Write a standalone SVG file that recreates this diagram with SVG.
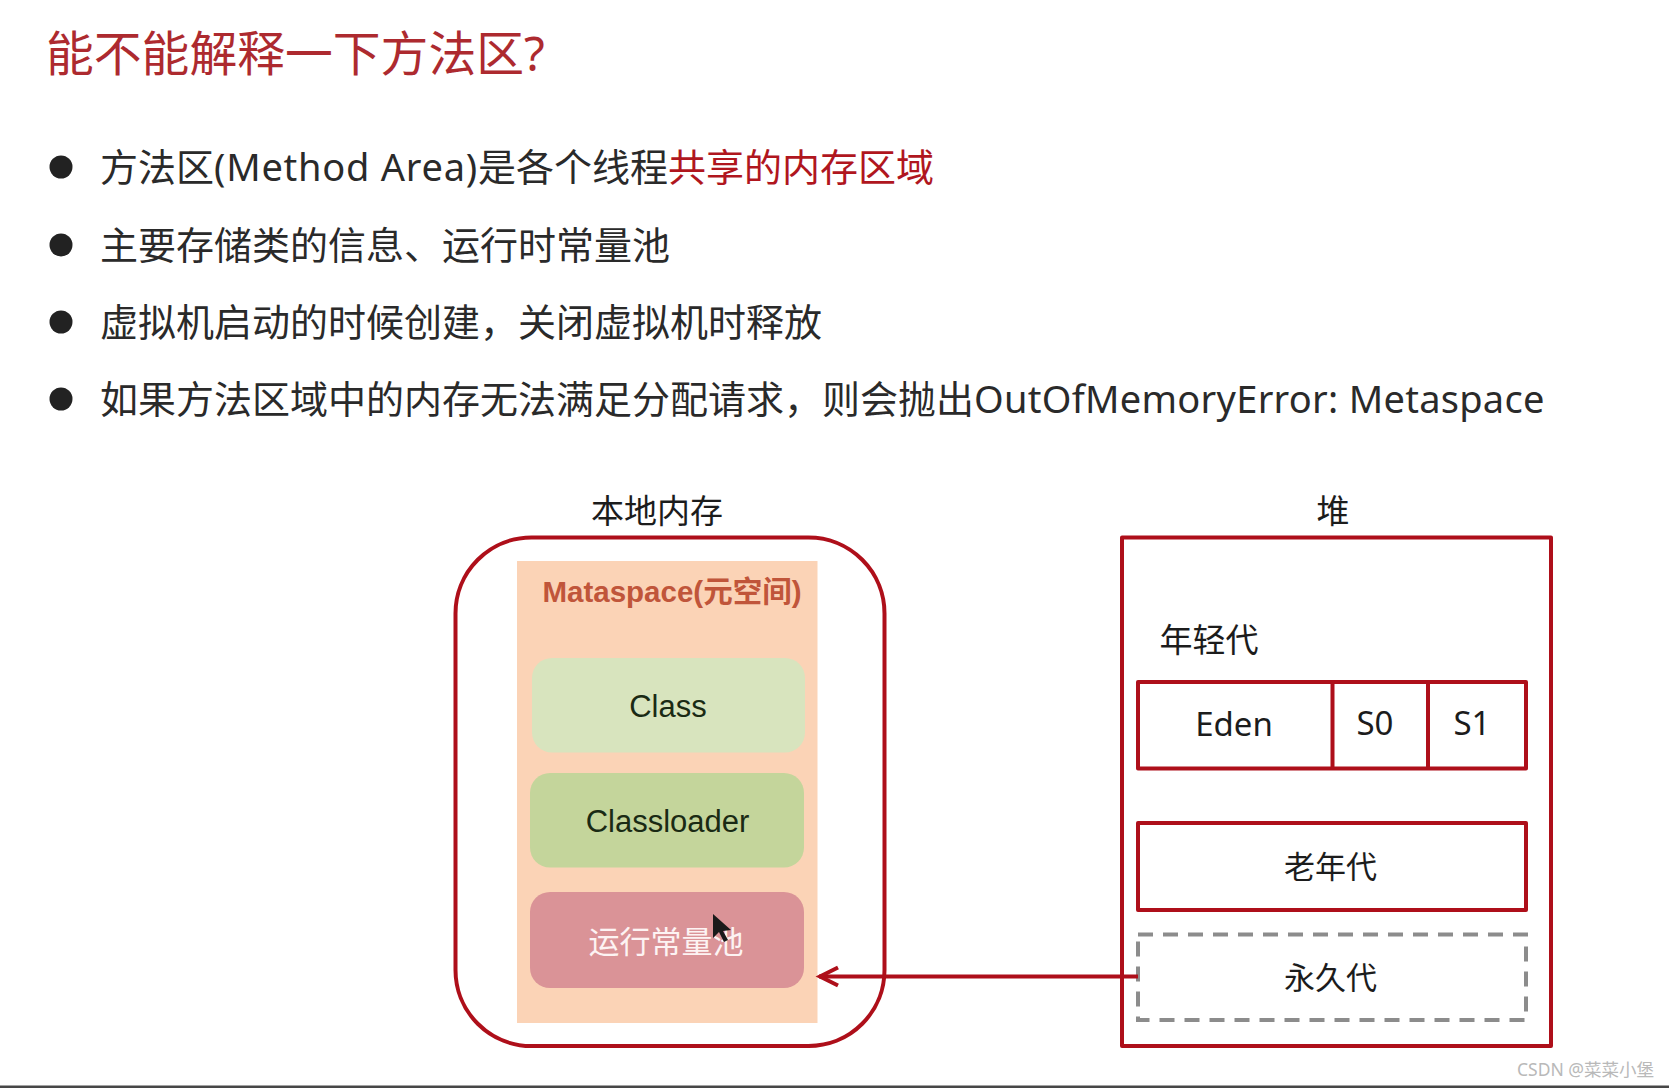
<svg xmlns="http://www.w3.org/2000/svg" width="1669" height="1088" viewBox="0 0 1669 1088">
<style>
text{font-family:"Noto Sans","Noto Sans CJK SC",sans-serif;fill:#2a2a2a}
.b{font-size:38px}
.r{fill:#b0161e}
.lab{font-size:33px;fill:#1c1c1c;text-anchor:middle}
.en{font-family:"Liberation Sans",Arial,sans-serif;font-size:31px;fill:#1a2a14;text-anchor:middle}
.box{fill:none;stroke:#ae0f1a;stroke-width:4;stroke-linejoin:round}
.dash{fill:none;stroke:#8c8c8c;stroke-width:4;stroke-dasharray:15 10}
.con{fill:none;stroke:#ae0f1a;stroke-width:4}
</style>
<defs>
<marker id="open" markerUnits="userSpaceOnUse" markerWidth="28" markerHeight="28" refX="24" refY="14" orient="auto">
<path d="M5 5L23 14L5 23" fill="none" stroke="#ae0f1a" stroke-width="4"/>
</marker>
</defs>
<rect width="1669" height="1088" fill="#fff"/>
<g id="title"><text x="46" y="71" font-size="47.800" style="fill:#ad2a2f">能不能解释一下方法区?</text></g>
<g id="bullets" fill="#222">
<circle cx="61" cy="167" r="11.500"/><circle cx="61" cy="245" r="11.500"/><circle cx="61" cy="322" r="11.500"/><circle cx="61" cy="399" r="11.500"/>
<text class="b" x="100" y="181">方法区<tspan letter-spacing="0.750">(Method Area)</tspan>是各个线程<tspan class="r">共享的内存区域</tspan></text>
<text class="b" x="100" y="259">主要存储类的信息、运行时常量池</text>
<text class="b" x="100" y="336">虚拟机启动的时候创建，关闭虚拟机时释放</text>
<text class="b" x="100" y="413">如果方法区域中的内存无法满足分配请求，则会抛出<tspan letter-spacing="0.280">OutOfMemoryError: Metaspace</tspan></text>
</g>
<g id="native-memory">
<rect class="box" x="455.500" y="537.500" width="429" height="508.500" rx="76"/>
<text class="lab" x="657" y="523">本地内存</text>
</g>
<g id="metaspace">
<rect x="517" y="561" width="300.500" height="462" fill="#fbd3b6"/>
<text x="672" y="602" text-anchor="middle" font-size="29.500" font-weight="700" style="fill:#c0553a;font-family:'Liberation Sans','Noto Sans CJK SC',sans-serif">Mataspace(元空间)</text>
</g>
<g id="class"><rect x="532" y="658" width="273" height="94.500" rx="20" fill="#d8e4be"/><text class="en" x="668" y="717">Class</text></g>
<g id="classloader"><rect x="530" y="773" width="274" height="94.500" rx="20" fill="#c4d59b"/><text class="en" x="667.500" y="832">Classloader</text></g>
<g id="constant-pool"><rect x="530" y="892" width="274" height="96" rx="20" fill="#da9397"/><text class="lab" x="666" y="953" style="font-size:31px;fill:#fdf3f3">运行常量池</text></g>
<g id="heap">
<rect class="box" x="1122" y="537.500" width="429" height="508.500"/>
<text class="lab" x="1333" y="523">堆</text>
<text class="lab" x="1209" y="652">年轻代</text>
</g>
<g id="young">
<rect class="box" x="1138" y="682" width="388" height="86.500"/>
<path class="box" d="M1332.500 682V768.500M1428 682V768.500"/>
<text class="lab" x="1234" y="736">Eden</text>
<text class="lab" x="1375" y="735">S0</text>
<text class="lab" x="1472" y="735">S1</text>
</g>
<g id="old"><rect class="box" x="1138" y="823" width="388" height="87"/><text class="lab" x="1330.500" y="878" style="font-size:31px">老年代</text></g>
<g id="perm"><rect class="dash" x="1138" y="934.500" width="388" height="85.500"/><text class="lab" x="1330.500" y="989" style="font-size:31px">永久代</text></g>
<g id="connectors"><path class="con" d="M1138 976.500H819" marker-end="url(#open)"/></g>
<path id="cursor" d="M713 914V938L719 932L724 942L728 940L723 931L731 930Z" fill="#1a1a1a"/>
<text id="watermark" x="1517" y="1076" font-size="17.500" style="fill:#b9b9b9">CSDN @菜菜小堡</text>
<rect id="bar" y="1085.500" width="1669" height="2.500" fill="#474747"/>
</svg>
